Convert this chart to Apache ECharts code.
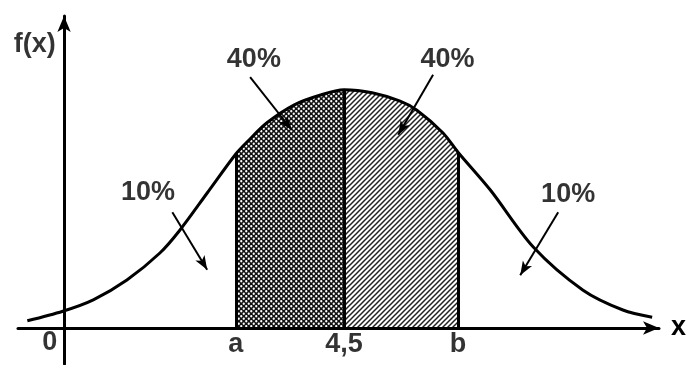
<!DOCTYPE html>
<html>
<head>
<meta charset="utf-8">
<script src="https://cdn.jsdelivr.net/npm/echarts@6/dist/echarts.min.js"></script>
<style>
  html, body { margin: 0; padding: 0; background: #fff; }
  #chart { width: 689px; height: 365px; }
</style>
</head>
<body>
<div id="chart"></div>
<script>
  // density curve (x, f(x))
  var curveX = [-0.59, -0.02, 0.47, 1.01, 1.54, 1.86, 2.3, 2.76, 2.94, 3.26, 3.7, 4.11, 4.5, 4.95, 5.4, 5.67, 6.09, 6.33, 6.85, 7.54, 8.34, 8.98, 9.45];
  var curveY = [0.012, 0.028, 0.047, 0.08, 0.125, 0.163, 0.225, 0.29, 0.31, 0.342, 0.372, 0.388, 0.397, 0.392, 0.378, 0.363, 0.325, 0.293, 0.23, 0.135, 0.063, 0.03, 0.018];

  var pointA = 2.76, mean = 4.5, pointB = 6.33;
  var tickValues = [pointA, mean, pointB];
  var tickLabels = ['a', '4,5', 'b'];
  var tickLabelY = -0.028;

  // text annotations (x, y in chart units)
  var noteTexts = ['f(x)', '0', '40%', '40%', '10%', '10%'];
  var noteX = [-0.47, -0.23, 3.05, 6.16, 1.35, 8.10];
  var noteY = [0.473, -0.025, 0.448, 0.448, 0.225, 0.222];

  // annotation arrows: from -> to
  var arrowFrom = [[2.99, 0.418], [5.93, 0.422], [1.74, 0.193], [7.94, 0.193]];
  var arrowTo = [[3.66, 0.33], [5.37, 0.322], [2.30, 0.097], [7.33, 0.088]];

  var FONT = 'Liberation Sans';

  function dotPattern() {
    var c = document.createElement('canvas');
    c.width = 5; c.height = 5;
    var g = c.getContext('2d');
    g.fillStyle = '#111';
    g.fillRect(0, 0, 5, 5);
    g.fillStyle = '#fff';
    g.beginPath(); g.arc(1.25, 1.25, 1.15, 0, Math.PI * 2); g.fill();
    g.beginPath(); g.arc(3.75, 3.75, 1.15, 0, Math.PI * 2); g.fill();
    return c;
  }

  function hatchPattern() {
    var c = document.createElement('canvas');
    c.width = 5; c.height = 5;
    var g = c.getContext('2d');
    g.fillStyle = '#fff';
    g.fillRect(0, 0, 5, 5);
    g.strokeStyle = '#222';
    g.lineWidth = 1.5;
    g.beginPath();
    g.moveTo(-1, 6); g.lineTo(6, -1);
    g.moveTo(-1, 1); g.lineTo(1, -1);
    g.moveTo(4, 6); g.lineTo(6, 4);
    g.stroke();
    return c;
  }

  function pairs(from, to) {
    var out = [];
    for (var i = 0; i < curveX.length; i++) {
      if (curveX[i] >= from && curveX[i] <= to) out.push([curveX[i], curveY[i]]);
    }
    return out;
  }

  function yAt(x) {
    return curveY[curveX.indexOf(x)];
  }

  var curveData = curveX.map(function (x, i) { return [x, curveY[i]]; });

  var labelData = noteTexts.map(function (t, i) {
    return { name: t, value: [noteX[i], noteY[i]] };
  }).concat(tickLabels.map(function (t, i) {
    return { name: t, value: [tickValues[i], tickLabelY] };
  }));

  var chart = echarts.init(document.getElementById('chart'));
  var option = {
    animation: false,
    grid: { left: 18, right: 30, top: 16, bottom: 1, containLabel: false, outerBoundsMode: 'none' },
    xAxis: {
      type: 'value',
      min: -0.74,
      max: 9.56,
      z: 10,
      name: 'x',
      nameLocation: 'end',
      nameGap: 12,
      nameTextStyle: { color: '#000', fontSize: 27, fontFamily: FONT, fontWeight: 'bold', verticalAlign: 'middle' },
      axisLine: { onZero: true, symbol: ['none', 'arrow'], symbolSize: [10, 16], lineStyle: { color: '#000', width: 3 } },
      axisTick: { show: false },
      splitLine: { show: false },
      axisLabel: { show: false }
    },
    yAxis: {
      type: 'value',
      min: -0.06,
      max: 0.52,
      z: 10,
      axisLine: { onZero: true, symbol: ['none', 'arrow'], symbolSize: [10, 16], lineStyle: { color: '#000', width: 3 } },
      axisTick: { show: false },
      splitLine: { show: false },
      axisLabel: { show: false }
    },
    series: [
      {
        name: 'left40',
        type: 'line',
        z: 1,
        smooth: 0.3,
        symbol: 'none',
        lineStyle: { width: 0 },
        areaStyle: { color: { image: dotPattern(), repeat: 'repeat' }, opacity: 1 },
        data: pairs(pointA, mean)
      },
      {
        name: 'right40',
        type: 'line',
        z: 1,
        smooth: 0.3,
        symbol: 'none',
        lineStyle: { width: 0 },
        areaStyle: { color: { image: hatchPattern(), repeat: 'repeat' }, opacity: 1 },
        data: pairs(mean, pointB)
      },
      {
        name: 'f(x)',
        type: 'line',
        z: 5,
        smooth: 0.3,
        symbol: 'none',
        lineStyle: { color: '#000', width: 3 },
        data: curveData,
        markLine: {
          silent: true,
          symbol: 'none',
          label: { show: false },
          lineStyle: { color: '#000', width: 3, type: 'solid' },
          data: tickValues.map(function (x) {
            return [{ coord: [x, 0] }, { coord: [x, yAt(x)] }];
          })
        }
      },
      {
        name: 'arrows',
        type: 'line',
        z: 6,
        data: [],
        markLine: {
          silent: true,
          symbol: ['none', 'arrow'],
          label: { show: false },
          lineStyle: { color: '#000', width: 2, type: 'solid' },
          data: arrowFrom.map(function (p, i) {
            return [
              { coord: p, symbol: 'none' },
              { coord: arrowTo[i], symbol: 'arrow', symbolSize: [8, 14] }
            ];
          })
        }
      },
      {
        name: 'notes',
        type: 'scatter',
        z: 7,
        silent: true,
        symbolSize: 1,
        itemStyle: { color: 'rgba(0,0,0,0)' },
        label: {
          show: true,
          position: 'inside',
          formatter: '{b}',
          color: '#000',
          fontSize: 27,
          fontFamily: FONT,
          fontWeight: 'bold'
        },
        data: labelData
      }
    ]
  };
  chart.setOption(option);
</script>
</body>
</html>
